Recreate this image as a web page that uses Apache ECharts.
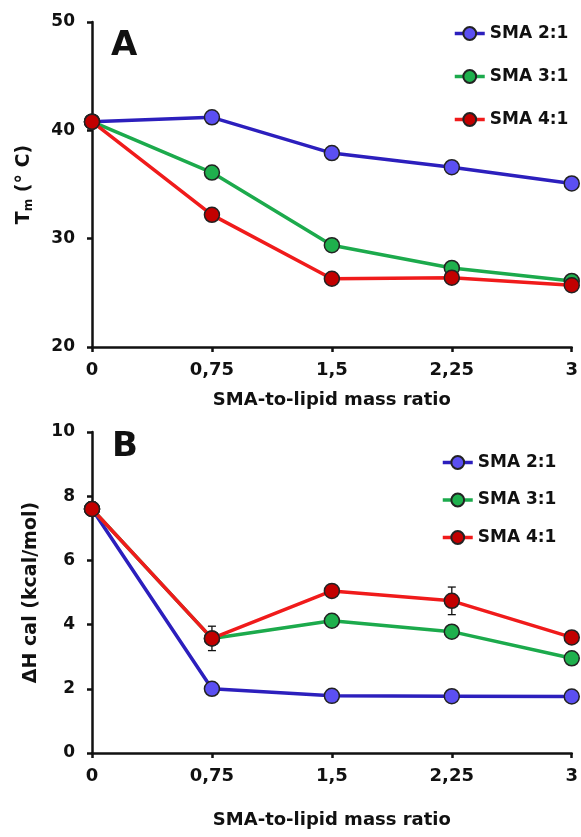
<!DOCTYPE html>
<html>
<head>
<meta charset="utf-8">
<script src="https://cdn.jsdelivr.net/npm/echarts@6/dist/echarts.min.js"></script>
<style>
html, body { margin: 0; padding: 0; background: #fff; }
#chart { width: 581px; height: 837px; }
</style>
</head>
<body>
<div id="chart"></div>
<script>
// data
var ratio = [0, 0.75, 1.5, 2.25, 3];
var xTickLabels = ['0', '0,75', '1,5', '2,25', '3'];
var seriesNames = ['SMA 2:1', 'SMA 3:1', 'SMA 4:1'];

// panel A: Tm (°C)
var tm_sma21 = [40.8, 41.2, 37.9, 36.6, 35.1];
var tm_sma31 = [40.8, 36.1, 29.4, 27.3, 26.1];
var tm_sma41 = [40.8, 32.2, 26.3, 26.4, 25.7];

// panel B: dH cal (kcal/mol)
var dh_sma21 = [7.6, 2.0, 1.78, 1.77, 1.76];
var dh_sma31 = [7.6, 3.57, 4.12, 3.78, 2.95];
var dh_sma41 = [7.6, 3.57, 5.05, 4.74, 3.6];
var dh_sma41_err = [0, 0.38, 0, 0.43, 0];

var lineColors = ['#2c1fbd', '#1caa4c', '#f01b1b'];
var markColors = ['#5b4ff2', '#1fb04d', '#c20000'];

var FONT = 'DejaVu Sans';

var chart = echarts.init(document.getElementById('chart'), null, {renderer: 'canvas'});

function pairs(ys) {
    return ratio.map(function (x, i) { return [x, ys[i]]; });
}

function lineSeries(k, ys, idx) {
    return {
        name: seriesNames[k],
        type: 'line',
        xAxisIndex: idx,
        yAxisIndex: idx,
        data: pairs(ys),
        symbol: 'circle',
        symbolSize: 15,
        lineStyle: {color: lineColors[k], width: 3.5},
        itemStyle: {color: markColors[k], borderColor: '#222', borderWidth: 1.5},
        z: 3 + k
    };
}

function xAxis(idx, gap) {
    return {
        type: 'value',
        gridIndex: idx,
        min: 0,
        max: 3,
        interval: 0.75,
        name: 'SMA-to-lipid mass ratio',
        nameLocation: 'middle',
        nameGap: gap,
        nameTextStyle: {fontFamily: FONT, fontWeight: 'bold', fontSize: 18, color: '#111'},
        axisLine: {lineStyle: {color: '#111', width: 2.5}},
        axisTick: {length: 5, lineStyle: {color: '#111', width: 2.5}},
        axisLabel: {
            fontFamily: FONT, fontWeight: 'bold', fontSize: 18, color: '#111', margin: 14,
            formatter: function (v) { return xTickLabels[Math.round(v / 0.75)]; }
        },
        splitLine: {show: false}
    };
}

var commonY = {
    type: 'value',
    nameLocation: 'middle',
    axisLine: {show: true, lineStyle: {color: '#111', width: 2.5}},
    axisTick: {show: true, length: 5, lineStyle: {color: '#111', width: 2.5}},
    axisLabel: {fontFamily: FONT, fontWeight: 'bold', fontSize: 17, color: '#111', margin: 17},
    splitLine: {show: false}
};

var legendText = {fontFamily: FONT, fontWeight: 'bold', fontSize: 17, color: '#111'};

chart.setOption({
    animation: false,
    backgroundColor: '#fff',
    title: [
        {text: 'A', left: 106, top: 24, textStyle: {fontFamily: FONT, fontWeight: 'bold', fontSize: 34, color: '#111'}},
        {text: 'B', left: 107, top: 425, textStyle: {fontFamily: FONT, fontWeight: 'bold', fontSize: 34, color: '#111'}}
    ],
    legend: [
        {
            data: seriesNames,
            orient: 'vertical',
            left: 448,
            top: 20,
            itemWidth: 30,
            itemHeight: 16,
            itemGap: 26,
            lineStyle: {width: 3.5},
            textStyle: legendText
        },
        {
            data: seriesNames,
            orient: 'vertical',
            left: 436,
            top: 449,
            itemWidth: 30,
            itemHeight: 16,
            itemGap: 20.5,
            lineStyle: {width: 3.5},
            textStyle: legendText
        }
    ],
    grid: [
        {left: 92, top: 22, width: 480, height: 325},
        {left: 92, top: 432, width: 480, height: 321}
    ],
    xAxis: [xAxis(0, 44), xAxis(1, 58)],
    yAxis: [
        Object.assign({}, commonY, {
            gridIndex: 0, min: 20, max: 50, interval: 10,
            name: '{t|T}{s|m}{t| (° C)}',
            nameGap: 57,
            nameTextStyle: {
                rich: {
                    t: {fontFamily: FONT, fontWeight: 'bold', fontSize: 19, color: '#111'},
                    s: {fontFamily: FONT, fontWeight: 'bold', fontSize: 12, color: '#111', padding: [10, 0, 0, 0]}
                }
            }
        }),
        Object.assign({}, commonY, {
            gridIndex: 1, min: 0, max: 10, interval: 2,
            name: '\u0394H cal (kcal/mol)',
            nameGap: 38,
            nameTextStyle: {fontFamily: FONT, fontWeight: 'bold', fontSize: 19, color: '#111'}
        })
    ],
    series: [
        lineSeries(0, tm_sma21, 0),
        lineSeries(1, tm_sma31, 0),
        lineSeries(2, tm_sma41, 0),
        lineSeries(0, dh_sma21, 1),
        lineSeries(1, dh_sma31, 1),
        {
            type: 'custom',
            xAxisIndex: 1,
            yAxisIndex: 1,
            z: 4,
            silent: true,
            data: ratio.map(function (x, i) { return [x, dh_sma41[i] - dh_sma41_err[i], dh_sma41[i] + dh_sma41_err[i]]; })
                .filter(function (d, i) { return dh_sma41_err[i] > 0; }),
            renderItem: function (params, api) {
                var lo = api.coord([api.value(0), api.value(1)]);
                var hi = api.coord([api.value(0), api.value(2)]);
                var w = 4;
                var st = {stroke: '#111', lineWidth: 1.3};
                return {
                    type: 'group',
                    children: [
                        {type: 'line', shape: {x1: lo[0], y1: lo[1], x2: hi[0], y2: hi[1]}, style: st},
                        {type: 'line', shape: {x1: lo[0] - w, y1: lo[1], x2: lo[0] + w, y2: lo[1]}, style: st},
                        {type: 'line', shape: {x1: hi[0] - w, y1: hi[1], x2: hi[0] + w, y2: hi[1]}, style: st}
                    ]
                };
            }
        },
        lineSeries(2, dh_sma41, 1)
    ]
});
</script>
</body>
</html>
